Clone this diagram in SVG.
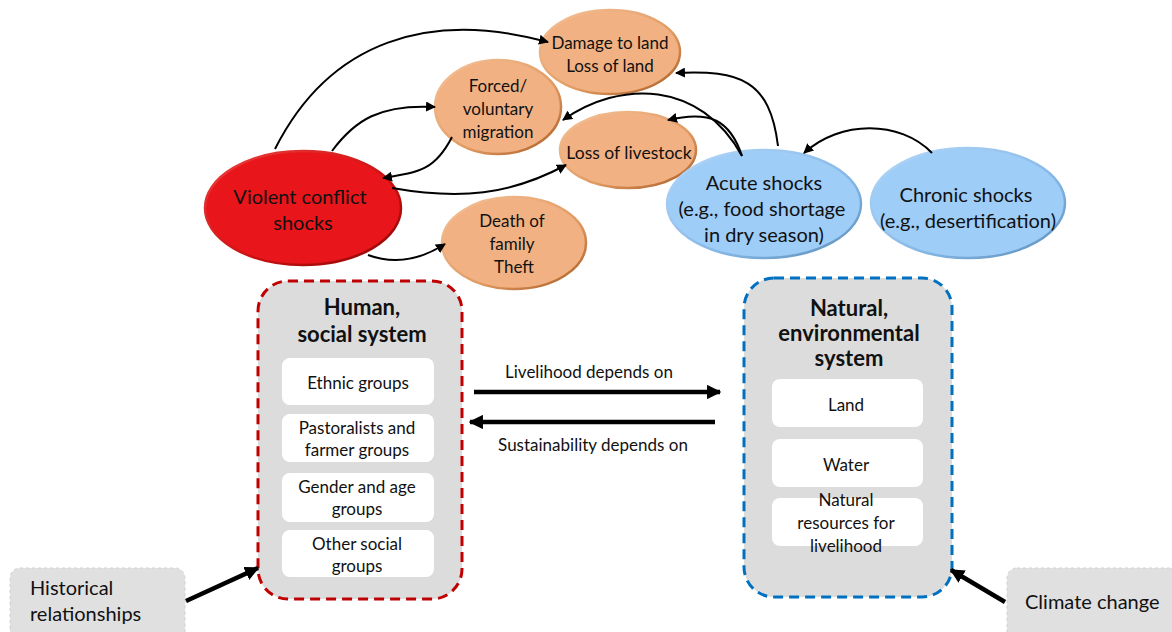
<svg xmlns="http://www.w3.org/2000/svg" width="1172" height="632" viewBox="0 0 1172 632">
<defs>
<marker id="ah" viewBox="0 0 10 10" refX="9" refY="5" markerWidth="5" markerHeight="5" orient="auto" markerUnits="strokeWidth">
<path d="M0,0 L10,5 L0,10 z" fill="#000"/>
</marker>
<marker id="ahb" viewBox="0 0 10 10" refX="9" refY="5" markerWidth="3.2" markerHeight="3.2" orient="auto" markerUnits="strokeWidth">
<path d="M0,0 L10,5 L0,10 z" fill="#000"/>
</marker>
<linearGradient id="gOr" x1="0" y1="0" x2="1" y2="1">
<stop offset="0" stop-color="#F6C39A"/><stop offset="0.6" stop-color="#E09A62"/><stop offset="1" stop-color="#A85A22"/>
</linearGradient>
<linearGradient id="gRd" x1="0" y1="0" x2="1" y2="1">
<stop offset="0" stop-color="#F04040"/><stop offset="0.6" stop-color="#C81010"/><stop offset="1" stop-color="#8A0808"/>
</linearGradient>
<linearGradient id="gBl" x1="0" y1="0" x2="1" y2="1">
<stop offset="0" stop-color="#B5D8FA"/><stop offset="0.6" stop-color="#86B8E6"/><stop offset="1" stop-color="#5C8DB8"/>
</linearGradient>
</defs>
<style>
text{font-family:"Lato","Liberation Sans",sans-serif;fill:#111;text-anchor:middle;dominant-baseline:central}
.orange{fill:#F2B183;stroke:url(#gOr);stroke-width:2.5}
.red{fill:#E8151A;stroke:url(#gRd);stroke-width:2.5}
.blue{fill:#9ECDF8;stroke:url(#gBl);stroke-width:2.5}
.n17{font-size:17px}
.n20{font-size:20px}
.sys{fill:#DCDCDC;stroke-width:3;stroke-dasharray:10 6}
.inner{fill:#fff}
.t17{font-size:17px}
.bold{font-weight:bold;font-size:22px}
.side{fill:#E0E0E0;stroke:#d0d0d0;stroke-width:1;stroke-dasharray:3 3}
.lbl{font-size:20px;text-anchor:start}
.c{fill:none;stroke:#000;stroke-width:2;marker-end:url(#ah)}
.big{fill:none;stroke:#000;stroke-width:4.5;marker-end:url(#ahb)}
</style>

<g id="violent-conflict">
<ellipse class="red" cx="303" cy="208" rx="98" ry="57"/>
<text class="n20" x="300" y="196">Violent conflict</text>
<text class="n20" x="303" y="222">shocks</text>
</g>
<g id="damage-land">
<ellipse class="orange" cx="610" cy="52" rx="70" ry="42"/>
<text class="n17" x="610" y="42">Damage to land</text>
<text class="n17" x="610" y="65">Loss of land</text>
</g>
<g id="migration">
<ellipse class="orange" cx="498" cy="107" rx="63" ry="47"/>
<text class="n17" x="498" y="85">Forced/</text>
<text class="n17" x="498" y="108">voluntary</text>
<text class="n17" x="498" y="131">migration</text>
</g>
<g id="livestock">
<ellipse class="orange" cx="628" cy="150" rx="68" ry="38"/>
<text class="n17" x="629" y="152" style="font-size:17.5px">Loss of livestock</text>
</g>
<g id="death-family">
<ellipse class="orange" cx="514" cy="243" rx="72" ry="46"/>
<text class="n17" x="512" y="220">Death of</text>
<text class="n17" x="512" y="243">family</text>
<text class="n17" x="514" y="266">Theft</text>
</g>
<g id="acute-shocks">
<ellipse class="blue" cx="764" cy="204" rx="97" ry="54"/>
<text class="n20" x="764" y="182">Acute shocks</text>
<text class="n20" x="762" y="208">(e.g., food shortage</text>
<text class="n20" x="764" y="234">in dry season)</text>
</g>
<g id="chronic-shocks">
<ellipse class="blue" cx="968" cy="203" rx="97" ry="55"/>
<text class="n20" x="966" y="194">Chronic shocks</text>
<text class="n20" x="968" y="220">(e.g., desertification)</text>
</g>

<g id="human-system">
<rect class="sys" x="258" y="281" width="204" height="318" rx="30" stroke="#C00000"/>
<text class="bold" x="362" y="306">Human,</text>
<text class="bold" x="362" y="333">social system</text>
<rect class="inner" x="282" y="358" width="152" height="47" rx="8"/>
<text class="t17" x="358" y="382">Ethnic groups</text>
<rect class="inner" x="282" y="414" width="152" height="48" rx="8"/>
<text class="t17" x="357" y="427">Pastoralists and</text>
<text class="t17" x="357" y="449">farmer groups</text>
<rect class="inner" x="282" y="473" width="152" height="49" rx="8"/>
<text class="t17" x="357" y="486">Gender and age</text>
<text class="t17" x="357" y="508">groups</text>
<rect class="inner" x="282" y="530" width="152" height="47" rx="8"/>
<text class="t17" x="357" y="543">Other social</text>
<text class="t17" x="357" y="565">groups</text>
</g>

<g id="natural-system">
<rect class="sys" x="744" y="278" width="208" height="319" rx="30" stroke="#0070C0"/>
<text class="bold" x="849" y="307">Natural,</text>
<text class="bold" x="849" y="332">environmental</text>
<text class="bold" x="849" y="357">system</text>
<rect class="inner" x="772" y="379" width="151" height="48" rx="8"/>
<text class="t17" x="846" y="404">Land</text>
<rect class="inner" x="772" y="439" width="151" height="48" rx="8"/>
<text class="t17" x="846" y="464">Water</text>
<rect class="inner" x="772" y="498" width="151" height="48" rx="8"/>
<text class="t17" x="846" y="499">Natural</text>
<text class="t17" x="846" y="522">resources for</text>
<text class="t17" x="846" y="545">livelihood</text>
</g>

<g id="historical">
<rect class="side" x="10" y="568" width="175" height="80" rx="10"/>
<text class="lbl" x="30" y="587">Historical</text>
<text class="lbl" x="30" y="613">relationships</text>
</g>
<g id="climate">
<rect class="side" x="1007" y="568" width="180" height="80" rx="10"/>
<text class="lbl" x="1025" y="601">Climate change</text>
</g>

<g id="connectors">
<path class="c" d="M275,149 C330,40 430,10 548,42"/>
<path class="c" d="M332,151 C355,120 380,104 435,107"/>
<path class="c" d="M452,137 C435,170 420,172 383,178"/>
<path class="c" d="M392,188 C460,200 510,195 566,165"/>
<path class="c" d="M368,255 C395,265 420,260 445,244"/>
<path class="c" d="M778,146 C770,80 740,70 676,73"/>
<path class="c" d="M742,156 C700,80 620,80 563,120"/>
<path class="c" d="M742,156 C730,120 710,110 668,120"/>
<path class="c" d="M932,153 C900,120 840,120 804,153"/>
<path class="big" d="M474,392 L720,392"/>
<path class="big" d="M715,422 L470,422"/>
<path class="big" d="M186,601 L258,568"/>
<path class="big" d="M1005,602 L951,570"/>
<text class="t17" x="589" y="371">Livelihood depends on</text>
<text class="t17" x="593" y="444">Sustainability depends on</text>
</g>
</svg>
